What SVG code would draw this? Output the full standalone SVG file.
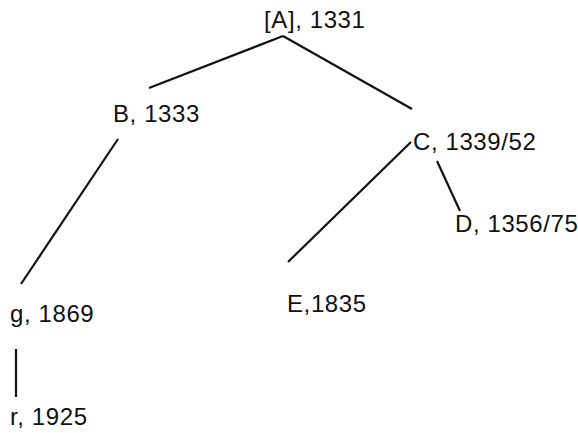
<svg xmlns="http://www.w3.org/2000/svg" width="578" height="433" viewBox="0 0 578 433">
<style>
text{font-family:"Liberation Sans",Arial,sans-serif;font-size:24px;letter-spacing:0.6px;fill:#111}
.e line{stroke:#111;stroke-width:2.2;stroke-linecap:butt}
</style>
<rect width="578" height="433" fill="#fff"/>
<g class="e" id="connectors">
<line x1="283" y1="36" x2="149" y2="88"/>
<line x1="283" y1="36" x2="412" y2="109"/>
<line x1="118" y1="139" x2="21" y2="284"/>
<line x1="16" y1="349" x2="16" y2="397"/>
<line x1="411" y1="142" x2="288" y2="262"/>
<line x1="437" y1="161" x2="460" y2="211"/>
</g>
<g id="A"><text x="264" y="28">[A], 1331</text></g>
<g id="B"><text x="113" y="122">B, 1333</text></g>
<g id="C"><text x="413" y="150">C, 1339/52</text></g>
<g id="D"><text x="455" y="232">D, 1356/75</text></g>
<g id="E"><text x="287" y="312">E,1835</text></g>
<g id="g"><text x="10" y="322">g, 1869</text></g>
<g id="r"><text x="10" y="425">r, 1925</text></g>
</svg>
